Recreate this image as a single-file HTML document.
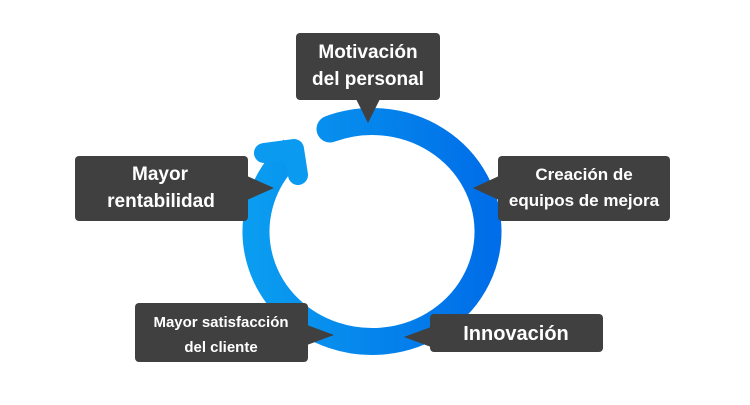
<!DOCTYPE html>
<html><head><meta charset="utf-8"><style>
body{margin:0;width:750px;height:400px;background:#fff;overflow:hidden}
svg text{font-family:"Liberation Sans",sans-serif;font-weight:bold;fill:#fff;text-anchor:middle}
</style></head><body>
<svg width="750" height="400" viewBox="0 0 750 400">
<defs><linearGradient id="g" x1="0" x2="1" y1="0" y2="0">
<stop offset="0" stop-color="#0a9cf0"/><stop offset="1" stop-color="#006ee8"/></linearGradient></defs>
<path d="M330 129 A116 110 0 1 1 283 161" fill="none" stroke="url(#g)" stroke-width="27" stroke-linecap="round"/>
<path d="M283 162 L294 148" stroke="#0a9af0" stroke-width="27" fill="none"/>
<path d="M264 153 L294 149 L298 175" fill="none" stroke="#0a9af0" stroke-width="20" stroke-linecap="round" stroke-linejoin="round"/>
<g fill="#404040">
<rect x="296" y="33" width="144" height="67" rx="4"/><path d="M356 99 L368 123 L380 99Z"/>
<rect x="75" y="156" width="173" height="65" rx="4"/><path d="M247 176 L274 188 L247 200Z"/>
<rect x="498" y="156" width="172" height="65" rx="4"/><path d="M499 176 L473 188 L499 200Z"/>
<rect x="135" y="303" width="173" height="59" rx="4"/><path d="M307 325 L334 335 L307 345Z"/>
<rect x="430" y="314" width="173" height="38" rx="4"/><path d="M431 327 L404 337 L431 347Z"/>
</g>
<text x="368" y="58" font-size="19">Motivación</text>
<text x="368" y="85" font-size="19">del personal</text>
<text x="160" y="180" font-size="19">Mayor</text>
<text x="161" y="207" font-size="19">rentabilidad</text>
<text x="584" y="180" font-size="17">Creación de</text>
<text x="584" y="206" font-size="17">equipos de mejora</text>
<text x="221" y="327" font-size="15">Mayor satisfacción</text>
<text x="221" y="352" font-size="15">del cliente</text>
<text x="516" y="340" font-size="20">Innovación</text>
</svg>
</body></html>
